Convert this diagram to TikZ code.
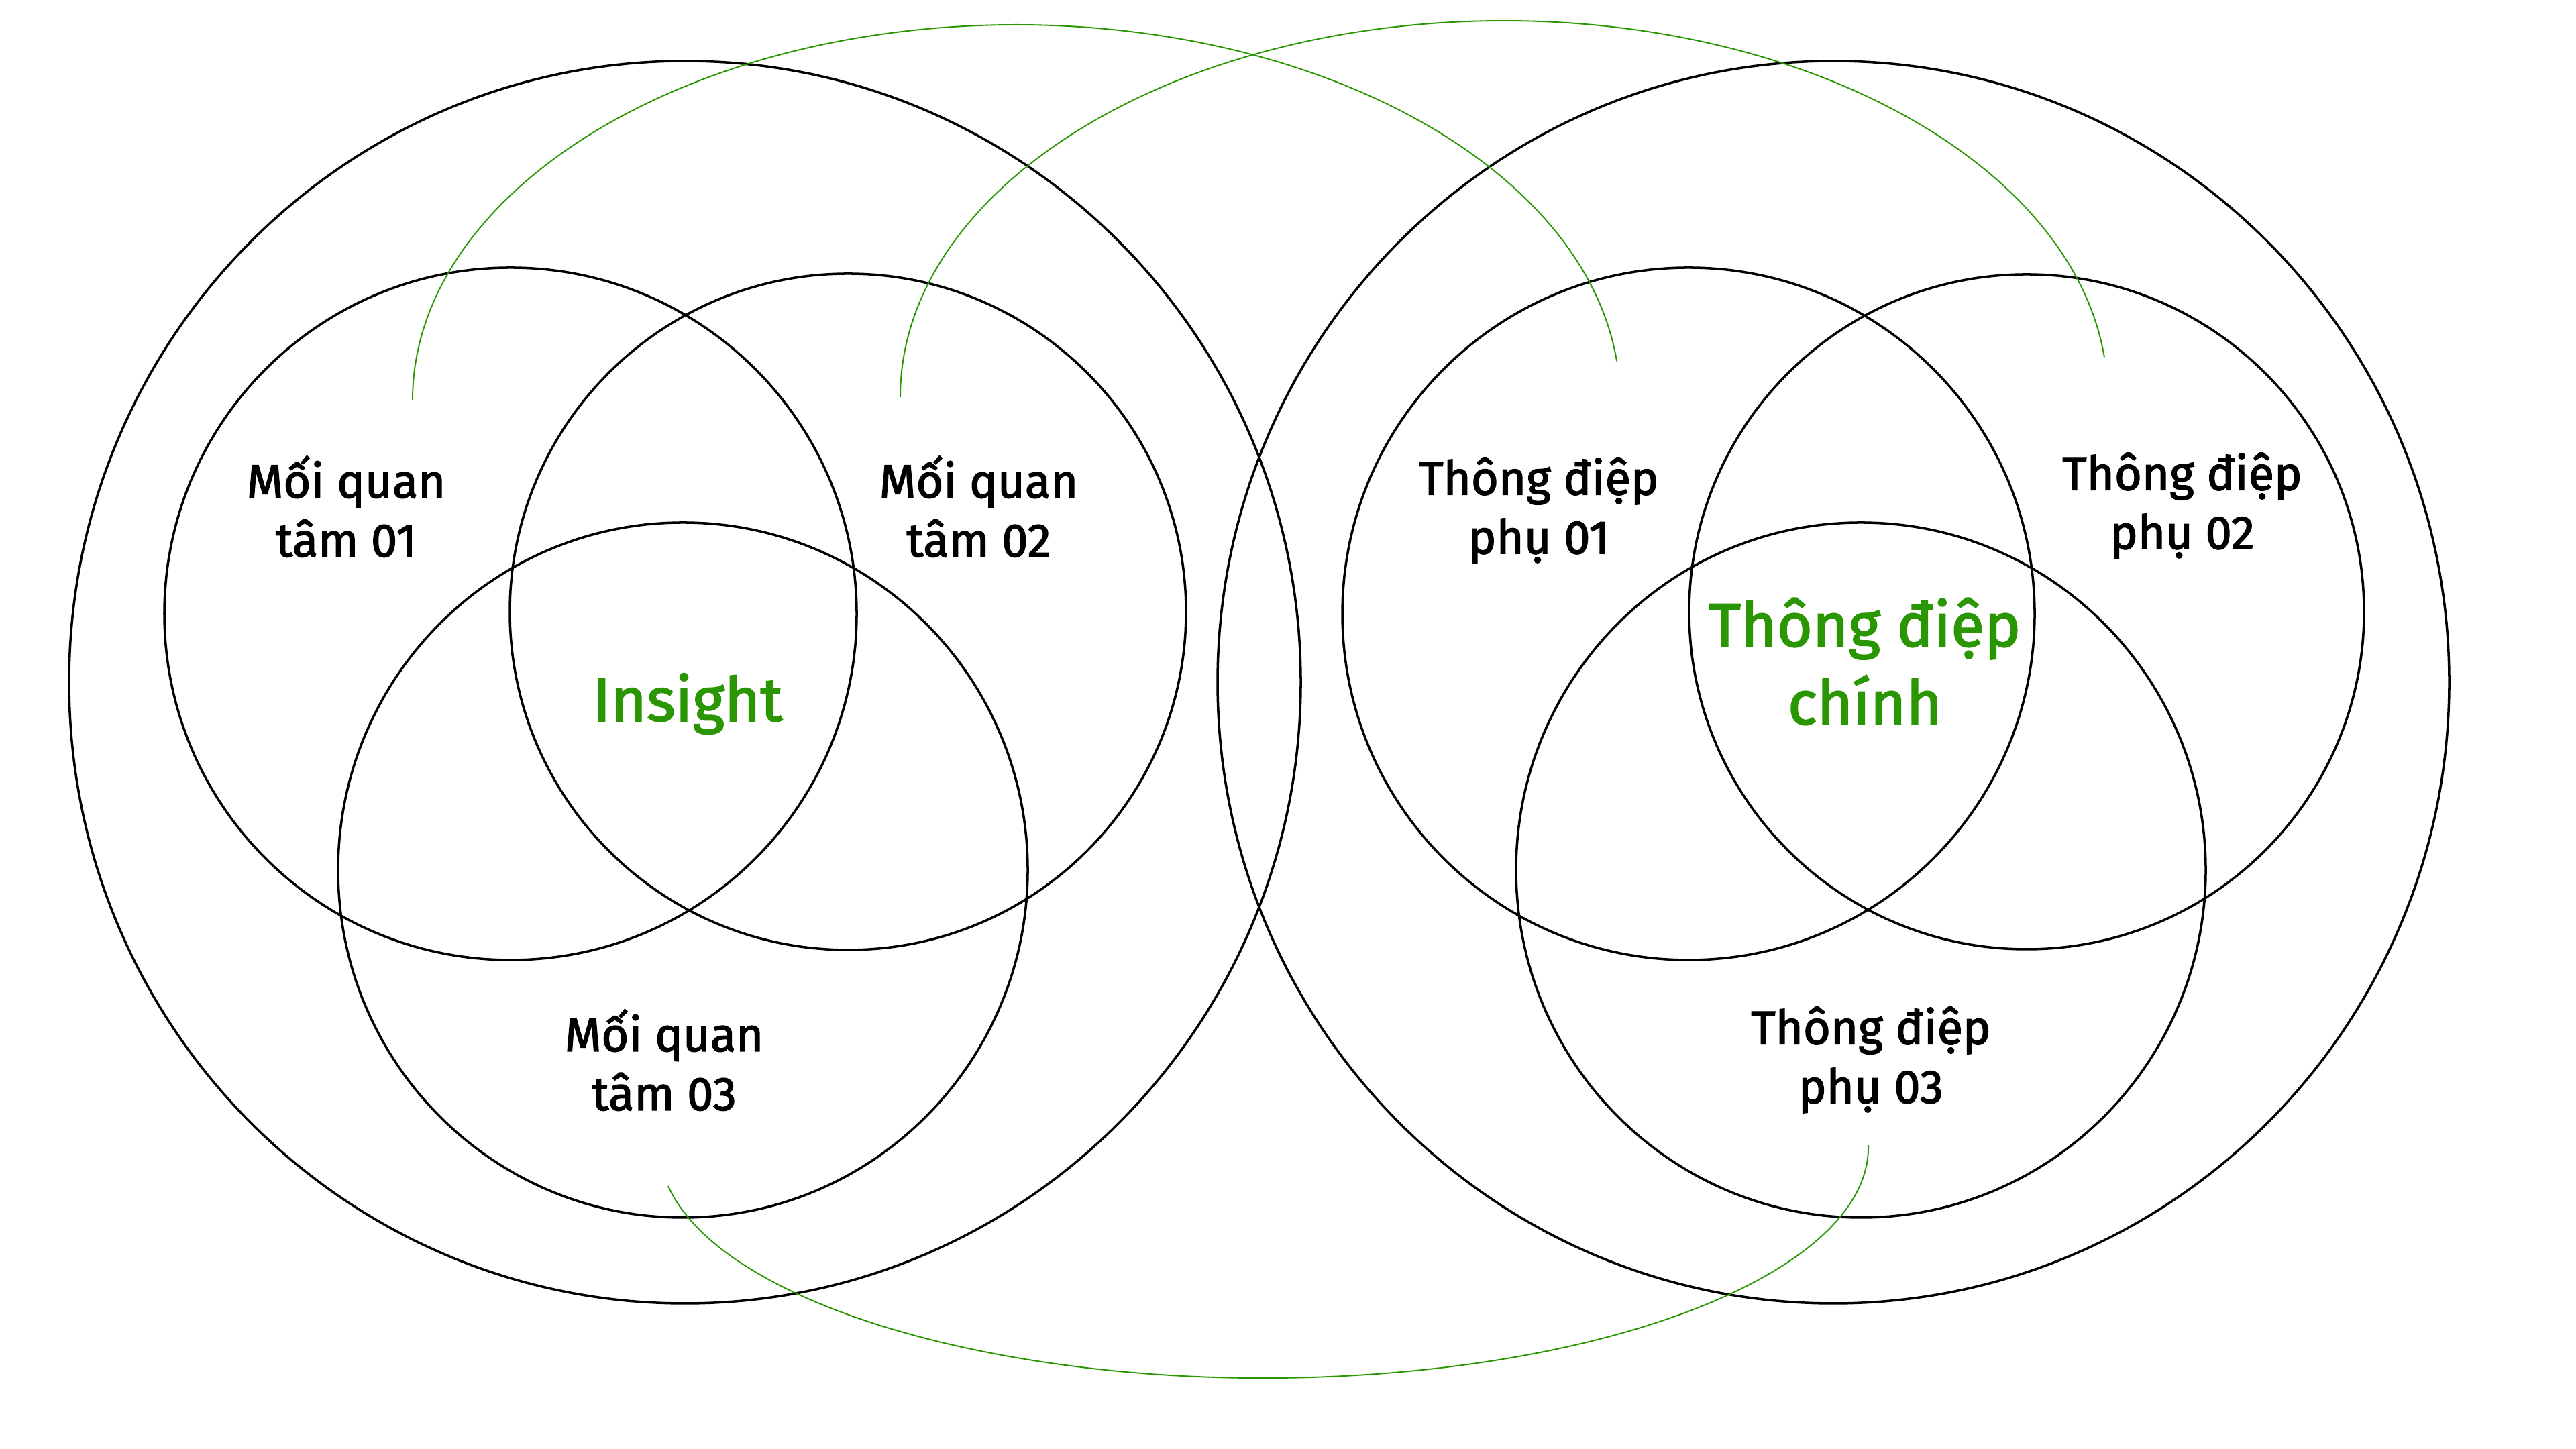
\documentclass[tikz,border=0pt]{standalone}
\usepackage{fontspec}
\setmainfont{Fira Sans}
\newfontfamily\labelfont{Fira Sans}[FakeBold=2]
\definecolor{leaf}{RGB}{42,150,4}

\begin{document}
\begin{tikzpicture}
[line width=1pt,
ring/.style={draw=black, line width=1pt},
link/.style={draw=leaf, line width=0.55pt},
lbl/.style={align=center, inner sep=0pt, font=\labelfont\fontsize{20}{25}\selectfont},
key/.style={align=center, inner sep=0pt, text=leaf, font=\labelfont\fontsize{26}{33}\selectfont}]

\fill[white] (0,0) rectangle (38.40,21.60);
\useasboundingbox (0,0) rectangle (38.40,21.60);

% outer circles
\draw[ring] (10.21,11.43) circle[x radius=9.18, y radius=9.26];
\draw[ring] (27.33,11.43) circle[x radius=9.18, y radius=9.26];

% left group
\draw[ring] (7.61,12.45) circle[radius=5.16];
\draw[ring] (12.64,12.48) circle[radius=5.04];
\draw[ring] (10.18,8.63) circle[x radius=5.14, y radius=5.18];

% right group
\draw[ring] (25.17,12.45) circle[radius=5.16];
\draw[ring] (30.21,12.48) circle[radius=5.03];
\draw[ring] (27.74,8.63) circle[x radius=5.14, y radius=5.18];

\node[lbl] (care1) at (5.16,14.05) {Mối quan\\tâm 01};
\node[lbl] (care2) at (14.59,14.05) {Mối quan\\tâm 02};
\node[lbl] (care3) at (9.90,5.80) {Mối quan\\tâm 03};
\node[key] (insight) at (10.25,11.11) {Insight};

\node[lbl] (msg1) at (22.94,13.99) {Thông điệp\\phụ 01};
\node[lbl] (msg2) at (32.53,14.06) {Thông điệp\\phụ 02};
\node[lbl] (msg3) at (27.89,5.80) {Thông điệp\\phụ 03};
\node[key] (mainmsg) at (27.80,11.74) {Thông điệp\\chính};

% links between the two groups
\coordinate (l1a) at (6.15,15.63);
\coordinate (l1b) at (24.10,16.22);
\coordinate (l2a) at (13.42,15.68);
\coordinate (l2b) at (31.37,16.28);
\coordinate (l3a) at (9.96,3.92);
\coordinate (l3b) at (27.85,4.53);

\draw[link] (l1a) arc[start angle=180, end angle=6.0, x radius=9.00, y radius=5.60];
\draw[link] (l2a) arc[start angle=180, end angle=6.1, x radius=9.00, y radius=5.61];
\draw[link] (l3a) arc[start angle=189.7, end angle=360.5, x radius=9.01, y radius=3.44];
\end{tikzpicture}
\end{document}
